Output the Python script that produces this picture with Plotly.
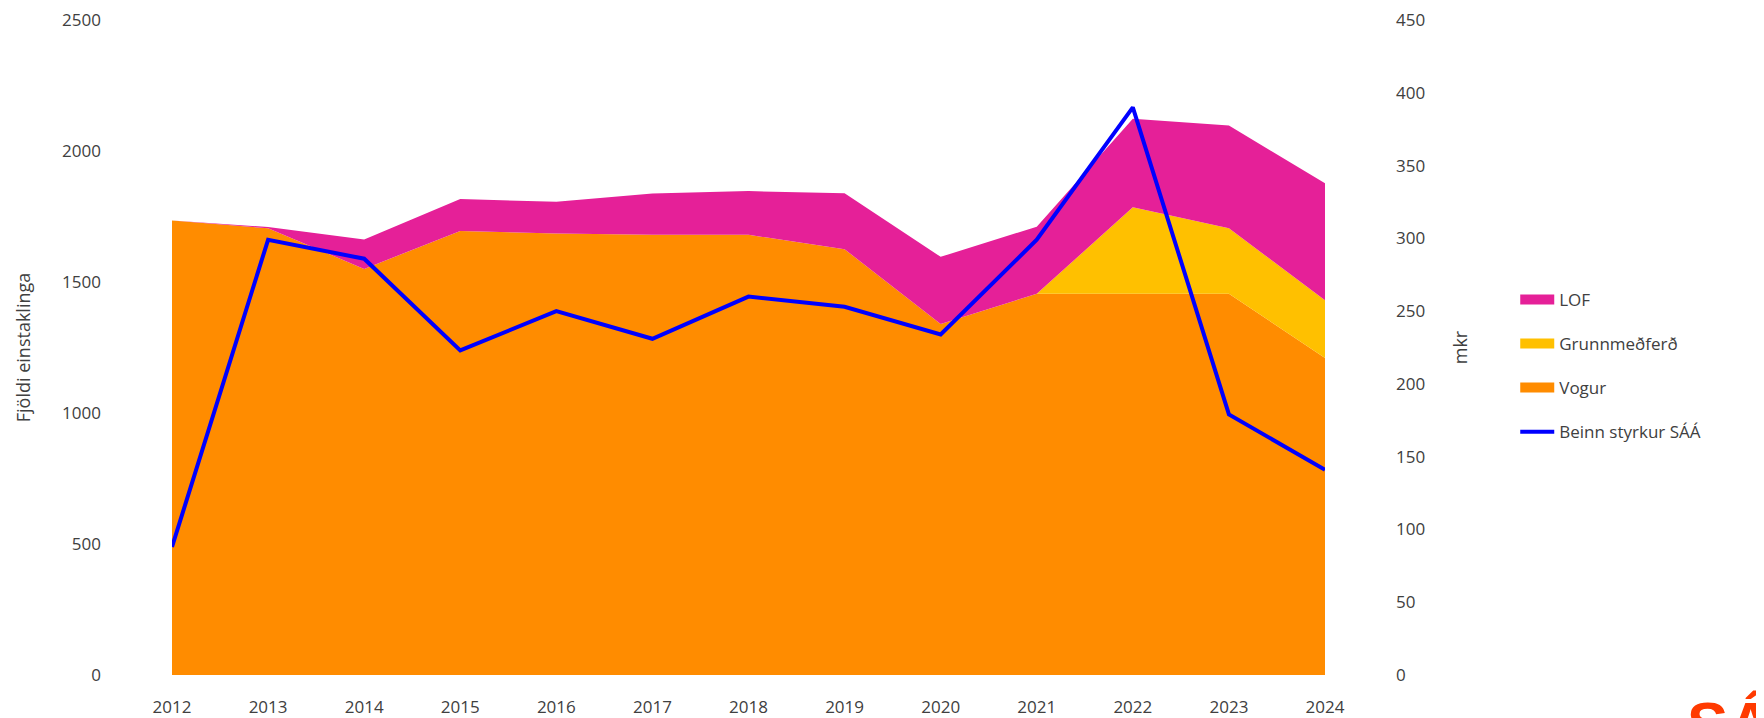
import plotly.graph_objects as go

years = [2012, 2013, 2014, 2015, 2016, 2017, 2018, 2019, 2020, 2021, 2022, 2023, 2024]
vogur = [1735, 1705, 1550, 1695, 1685, 1680, 1680, 1625, 1340, 1455, 1455, 1455, 1210]
grunn = [0, 0, 0, 0, 0, 0, 0, 0, 0, 0, 330, 250, 220]
lof = [0, 5, 112, 122, 121, 158, 167, 214, 256, 256, 338, 392, 447]
styrkur = [88, 299, 286, 223, 250, 231, 260, 253, 234, 299, 390, 179, 141]

FONT = "Open Sans"
TXT = "#404040"
C_VOGUR, C_GRUNN, C_LOF, C_BLUE = "#FF8C00", "#FFC000", "#E52098", "#0000FF"

fig = go.Figure()
fig.add_trace(go.Scatter(x=years, y=vogur, name="Vogur", stackgroup="s", mode="lines",
                         line=dict(width=0, color=C_VOGUR), fillcolor=C_VOGUR, showlegend=False))
fig.add_trace(go.Scatter(x=years, y=grunn, name="Grunnmeðferð", stackgroup="s", mode="lines",
                         line=dict(width=0, color=C_GRUNN), fillcolor=C_GRUNN, showlegend=False))
fig.add_trace(go.Scatter(x=years, y=lof, name="LOF", stackgroup="s", mode="lines",
                         line=dict(width=0, color=C_LOF), fillcolor=C_LOF, showlegend=False))
fig.add_trace(go.Scatter(x=years, y=styrkur, name="Beinn styrkur SÁÁ", mode="lines", yaxis="y2",
                         line=dict(width=4, color=C_BLUE), showlegend=False))

# legend entries
for name, col, w, grp in [("LOF", C_LOF, 16, "a"), ("Grunnmeðferð", C_GRUNN, 16, "b"),
                          ("Vogur", C_VOGUR, 16, "c"), ("Beinn styrkur SÁÁ", C_BLUE, 4, "d")]:
    fig.add_trace(go.Scatter(x=[None], y=[None], name=name, mode="lines",
                             line=dict(width=w, color=col), legendgroup=grp, showlegend=True))

fig.update_layout(
    width=1756, height=710,
    margin=dict(l=164, r=439, t=12, b=43, autoexpand=False),
    paper_bgcolor="white", plot_bgcolor="white",
    font=dict(family=FONT, size=17, color=TXT),
    showlegend=True,
    legend=dict(x=1.165, y=0.472, xanchor="left", yanchor="middle", traceorder="grouped",
                font=dict(family=FONT, size=17, color=TXT),
                tracegroupgap=19, itemwidth=34, bgcolor="rgba(0,0,0,0)"),
    xaxis=dict(tickmode="array", tickvals=years, ticktext=[str(y) for y in years],
               range=[2012, 2024], showgrid=False, zeroline=False, showline=False,
               ticks="", ticklabelstandoff=20, automargin=False, ticklabeloverflow="allow",
               tickfont=dict(size=17, color=TXT)),
    yaxis=dict(range=[0, 2500], dtick=500, showgrid=False, zeroline=False, showline=False,
               ticks="", ticklabelstandoff=70, automargin=False, ticklabeloverflow="allow",
               title=dict(text="Fjöldi einstaklinga", standoff=26, font=dict(size=18, color=TXT)),
               tickfont=dict(size=17, color=TXT)),
    yaxis2=dict(range=[0, 450], dtick=50, overlaying="y", side="right", showgrid=False,
                zeroline=False, showline=False, ticks="", ticklabelstandoff=70, automargin=False,
                ticklabeloverflow="allow",
                title=dict(text="mkr", standoff=30, font=dict(size=18, color=TXT)),
                tickfont=dict(size=17, color=TXT)),
    annotations=[dict(text="<b>SÁÁ</b>", xref="paper", yref="paper", x=1.312, y=0,
                      xanchor="left", yanchor="top", yshift=-12, showarrow=False,
                      font=dict(family="Liberation Sans", size=62, color="#FF3A00"))],
)

fig.write_html("out.html")
